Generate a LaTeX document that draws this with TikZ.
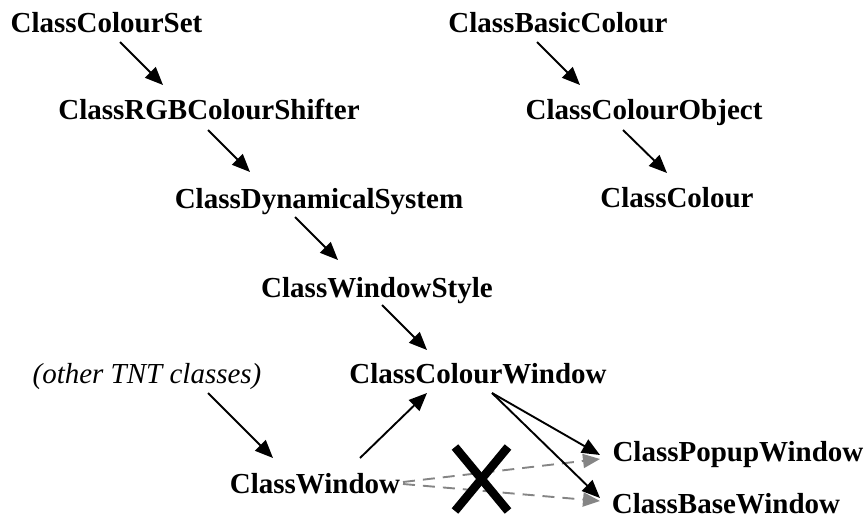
\documentclass[tikz,border=0pt]{standalone}
\usepackage{fontspec}
\setmainfont{Liberation Serif}
\usetikzlibrary{arrows.meta,calc}
\tikzset{
  cls/.style={anchor=base,inner sep=0pt,font=\fontsize{29}{34}\selectfont\bfseries},
  note/.style={anchor=base,inner sep=0pt,font=\fontsize{29}{34}\selectfont\itshape},
  arr/.style={line width=1.9pt,-{Triangle[length=18pt,width=15pt]}},
  darr/.style={line width=1.9pt,draw=black!48,dash pattern=on 12pt off 8pt,-{Triangle[length=17pt,width=14pt,fill=black!48]}},
  cross/.style={line width=8.5pt,black}
}
\begin{document}
\begin{tikzpicture}[x=1pt,y=-1pt]
\useasboundingbox (0,0) rectangle (868,519);
\node[cls] (cs)  at (106.5,33) {ClassColourSet};
\node[cls] (rgb) at (209,120) {ClassRGBColourShifter};
\node[cls] (dyn) at (319,208) {ClassDynamicalSystem};
\node[cls] (ws)  at (377,297) {ClassWindowStyle};
\node[cls] (cw)  at (478,383) {ClassColourWindow};
\node[note] (oth) at (147,383) {(other TNT classes)};
\node[cls] (win) at (315,493) {ClassWindow};
\node[cls] (pop) at (738,461) {ClassPopupWindow};
\node[cls] (bw)  at (726,513) {ClassBaseWindow};
\node[cls] (bc)  at (558,33) {ClassBasicColour};
\node[cls] (co)  at (644,120) {ClassColourObject};
\node[cls] (col) at (677,207) {ClassColour};
% dashed gray connectors
\draw[darr] ($(win.base)+(88,-11)$) -- ($(pop.base)+(-138,-2)$);
\draw[darr] ($(win.base)+(88,-9)$) -- ($(bw.base)+(-126,-12)$);
% the cross
\draw[cross] (455,447) -- (508,511);
\draw[cross] (508,447) -- (455,511);
% black connectors
\draw[arr] ($(cs.base)+(13.5,9)$) -- ($(rgb.base)+(-46,-35)$);
\draw[arr] ($(rgb.base)+(-1,10)$) -- ($(dyn.base)+(-69,-36)$);
\draw[arr] ($(dyn.base)+(-24,9)$) -- ($(ws.base)+(-39,-37)$);
\draw[arr] ($(ws.base)+(5,8)$) -- ($(cw.base)+(-51,-33)$);
\draw[arr] ($(bc.base)+(-21,9)$) -- ($(co.base)+(-64,-35)$);
\draw[arr] ($(co.base)+(-21,10)$) -- ($(col.base)+(-10,-34)$);
\draw[arr] ($(oth.base)+(61,10)$) -- ($(win.base)+(-42,-35)$);
\draw[arr] ($(win.base)+(45,-35)$) -- ($(cw.base)+(-51,10)$);
\draw[arr] ($(cw.base)+(14,10)$) -- ($(pop.base)+(-138,-6)$);
\draw[arr] ($(cw.base)+(14,10)$) -- ($(bw.base)+(-126,-15)$);
\end{tikzpicture}
\end{document}
